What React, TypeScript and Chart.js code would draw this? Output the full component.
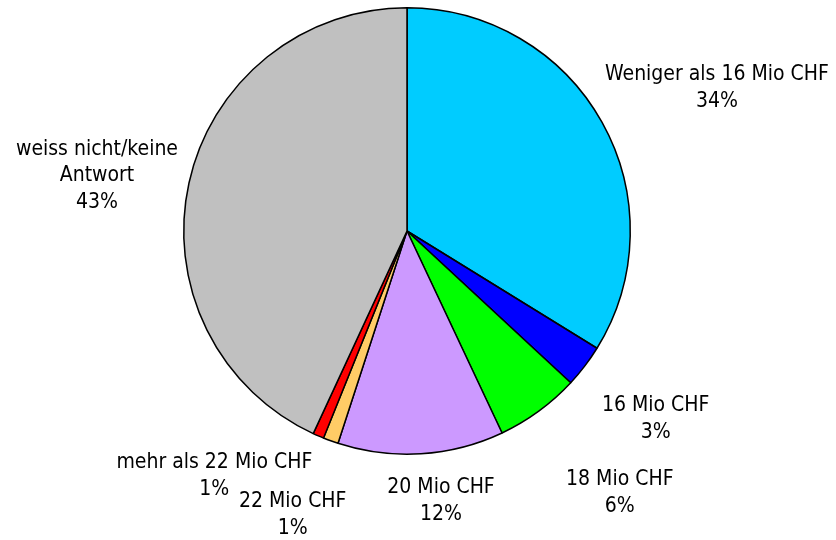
import React, { useEffect, useRef } from "react";
import { Chart, registerables } from "chart.js";

Chart.register(...registerables);

const categories: string[][] = [
  ["Weniger als 16 Mio CHF"],
  ["16 Mio CHF"],
  ["18 Mio CHF"],
  ["20 Mio CHF"],
  ["22 Mio CHF"],
  ["mehr als 22 Mio CHF"],
  ["weiss nicht/keine", "Antwort"],
];
const shares: number[] = [33.8, 3.1, 6.1, 12.0, 1.1, 0.8, 43.1];
const sliceColors: string[] = [
  "#00CCFF",
  "#0000FF",
  "#00FF00",
  "#CC99FF",
  "#FFCC66",
  "#FF0000",
  "#C0C0C0",
];
// label nudges relative to the outer edge at each slice's mid-angle
const labelNudges: [number, number][] = [
  [115, -34],
  [71, 53],
  [81, 82],
  [20, 47],
  [-38, 74],
  [-104, 40],
  [-92, -7],
];

const FONT = '21px "DejaVu Sans Condensed", "DejaVu Sans", sans-serif';
const LINE_H = 26.5;

const labelPlugin = {
  id: "sliceLabels",
  afterDatasetsDraw(chart: any) {
    const ctx = chart.ctx;
    const meta = chart.getDatasetMeta(0);
    const data = chart.data.datasets[0].data as number[];
    const total = data.reduce((a, b) => a + b, 0);
    ctx.save();
    ctx.font = FONT;
    ctx.fillStyle = "#000";
    ctx.textAlign = "center";
    ctx.textBaseline = "middle";
    meta.data.forEach((arc: any, i: number) => {
      const p = arc.getProps(["x", "y", "startAngle", "endAngle", "outerRadius"], true);
      const mid = (p.startAngle + p.endAngle) / 2;
      const ax = p.x + Math.cos(mid) * p.outerRadius + labelNudges[i][0];
      const ay = p.y + Math.sin(mid) * p.outerRadius + labelNudges[i][1];
      const lines = [...(chart.data.labels[i] as string[]), Math.round((data[i] / total) * 100) + "%"];
      const top = ay - ((lines.length - 1) * LINE_H) / 2;
      lines.forEach((t, k) => ctx.fillText(t, ax, top + k * LINE_H));
    });
    ctx.restore();
  },
};

export default function App() {
  const ref = useRef<HTMLCanvasElement | null>(null);
  useEffect(() => {
    if (!ref.current) return;
    const chart = new Chart(ref.current, {
      type: "pie",
      data: {
        labels: categories,
        datasets: [
          {
            data: shares,
            backgroundColor: sliceColors,
            borderColor: "#000000",
            borderWidth: 1.5,
          },
        ],
      },
      options: {
        responsive: false,
        animation: false,
        layout: { padding: { left: 183, top: 7, right: 205, bottom: 85 } },
        plugins: {
          legend: { display: false },
          tooltip: { enabled: false },
        },
      },
      plugins: [labelPlugin],
    });
    return () => chart.destroy();
  }, []);
  return (
    <div style={{ position: "fixed", left: 0, top: 0, width: 836, height: 540, background: "#fff" }}>
      <canvas ref={ref} width={836} height={540} style={{ width: 836, height: 540, display: "block" }} />
    </div>
  );
}
